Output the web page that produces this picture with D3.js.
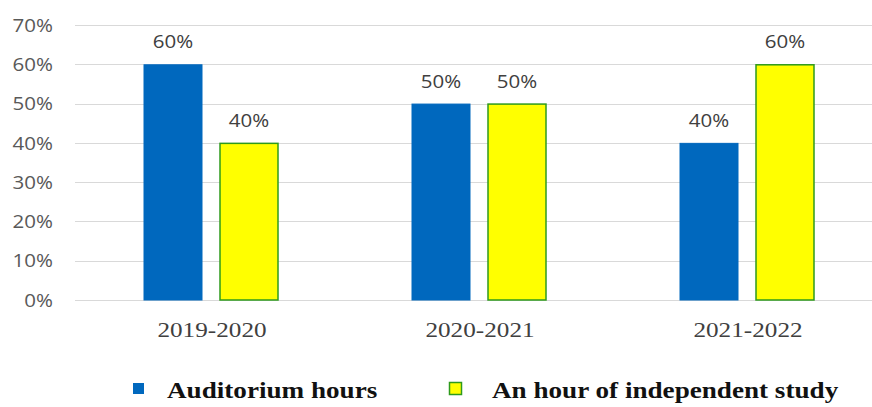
<!DOCTYPE html>
<html><head><meta charset="utf-8">
<script src="https://cdn.jsdelivr.net/npm/d3@7"></script>
<style>body{margin:0;background:#fff}svg{display:block}</style>
</head><body>
<script>
const categories = ["2019-2020", "2020-2021", "2021-2022"];
const seriesNames = ["Auditorium hours", "An hour of independent study"];
const auditorium = [60, 50, 40];
const independent = [40, 50, 60];
const yTicks = [0, 10, 20, 30, 40, 50, 60, 70];

const W = 872, H = 407;
const svg = d3.select("body").append("svg").attr("width", W).attr("height", H);
const x = d3.scaleBand().domain(categories).range([77, 881]).paddingInner(0).paddingOuter(0);
const y = d3.scaleLinear().domain([0, 70]).range([300, 25]);

const colors = ["#0068BE", "#FFFF00"];
const strokes = ["#0068BE", "#2E9A1C"];
const series = [auditorium, independent];

// gridlines
svg.append("g").selectAll("line").data(yTicks).join("line")
  .attr("x1", 75).attr("x2", 872)
  .attr("y1", d => Math.round(y(d)) + 0.5).attr("y2", d => Math.round(y(d)) + 0.5)
  .attr("stroke", "#d9d9d9").attr("stroke-width", 1.2);

// y labels
svg.append("g").selectAll("text").data(yTicks).join("text")
  .attr("transform", d => `translate(53,${y(d)}) scale(1.08,1)`).attr("dy", "0.35em")
  .attr("text-anchor", "end").attr("font-family", "Open Sans, sans-serif")
  .attr("font-size", 19).attr("fill", "#595959").text(d => d + "%");

const bw = 59, gap = 17;
series.forEach((vals, si) => {
  const offset = si === 0 ? -(gap / 2 + bw) : gap / 2;
  svg.append("g").selectAll("rect").data(vals).join("rect")
    .attr("x", (d, i) => x(categories[i]) + x.bandwidth() / 2 + offset + 0.5)
    .attr("y", d => y(d) + 0.5)
    .attr("width", bw - 1).attr("height", d => y(0) - y(d) - 0.5)
    .attr("fill", colors[si]).attr("stroke", strokes[si]).attr("stroke-width", si === 1 ? 1.5 : 1);
  svg.append("g").selectAll("text").data(vals).join("text")
    .attr("transform", (d, i) => `translate(${x(categories[i]) + x.bandwidth() / 2 + offset + bw / 2},${y(d) - 16}) scale(1.08,1)`)
    .attr("text-anchor", "middle").attr("font-family", "Open Sans, sans-serif")
    .attr("font-size", 19).attr("fill", "#404040").text(d => d + "%");
});

// category labels
svg.append("g").selectAll("text").data(categories).join("text")
  .attr("transform", d => `translate(${x(d) + x.bandwidth() / 2 + 1},337) scale(1.2,1)`)
  .attr("text-anchor", "middle").attr("font-family", "Liberation Serif, Times New Roman, serif")
  .attr("font-size", 21).attr("fill", "#404040").text(d => d);

// legend
const leg = [{x: 133, y: 383, s: 10, tx: 167}, {x: 449, y: 382, s: 12, tx: 492}];
seriesNames.forEach((n, i) => {
  svg.append("rect").attr("x", leg[i].x + 0.5).attr("y", leg[i].y + 0.5).attr("width", leg[i].s).attr("height", leg[i].s)
    .attr("fill", colors[i]).attr("stroke", strokes[i]).attr("stroke-width", i === 1 ? 1.5 : 1);
  svg.append("text").attr("transform", `translate(${leg[i].tx},398) scale(1.18,1)`)
    .attr("font-family", "Liberation Serif, Times New Roman, serif").attr("font-weight", "bold")
    .attr("font-size", 23).attr("fill", "#111").text(n);
});
</script>
</body></html>
